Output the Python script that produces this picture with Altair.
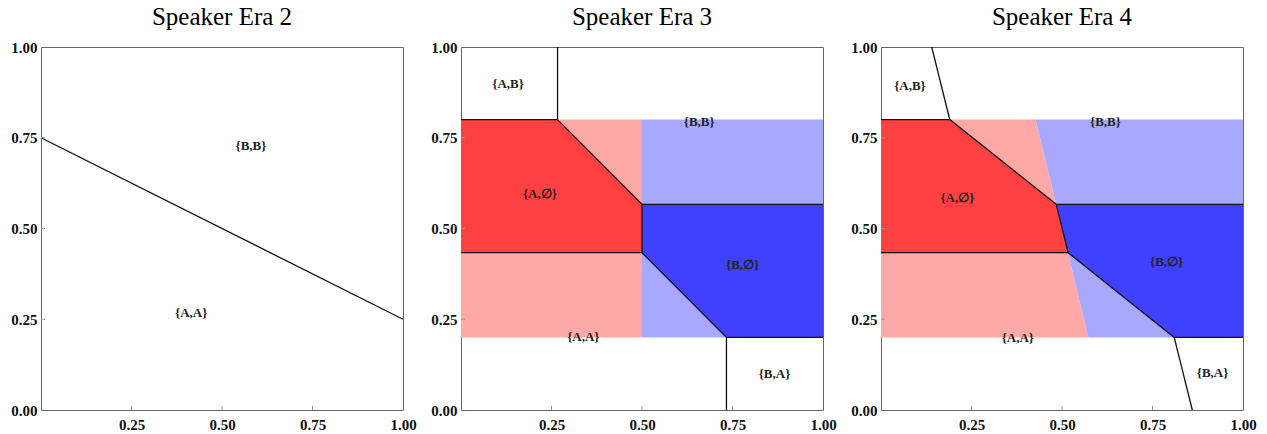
import altair as alt
import pandas as pd

W, H = 362, 363
SERIF = "Liberation Serif"

ERAS = ["Speaker Era 2", "Speaker Era 3", "Speaker Era 4"]

# Fill colours of the strategy regions
REGION_NAMES = ["A weak", "B weak", "A strong", "B strong"]
REGION_COLORS = ["#FFA8A8", "#A8A8FF", "#FF4040", "#4040FF"]

# Regions as areas: x breakpoints, upper bound, lower bound
# Era 3
E3_LIGHT_A = ([0.0, 0.5], [0.8, 0.8], [0.2, 0.2])
E3_LIGHT_B = ([0.5, 1.0], [0.8, 0.8], [0.2, 0.2])
E3_DARK_A = ([0.0, 0.2667, 0.5], [0.8, 0.8, 0.5667], [0.4333, 0.4333, 0.4333])
E3_DARK_B = ([0.5, 0.7333, 1.0], [0.5667, 0.5667, 0.5667], [0.4333, 0.2, 0.2])
# Era 4
E4_LIGHT_A = ([0.0, 0.427, 0.573], [0.8, 0.8, 0.2], [0.2, 0.2, 0.2])
E4_LIGHT_B = ([0.427, 0.573, 1.0], [0.8, 0.8, 0.8], [0.8, 0.2, 0.2])
E4_DARK_A = ([0.0, 0.19, 0.484, 0.517], [0.8, 0.8, 0.5667, 0.4333], [0.4333, 0.4333, 0.4333, 0.4333])
E4_DARK_B = ([0.484, 0.517, 0.81, 1.0], [0.5667, 0.5667, 0.5667, 0.5667], [0.5667, 0.4333, 0.2, 0.2])

# Boundary segments (x1, y1, x2, y2)
E2_SEGMENTS = [(0.0, 0.75, 1.0, 0.25)]
E3_SEGMENTS = [
    (0.2667, 1.0, 0.2667, 0.8),
    (0.0, 0.8, 0.2667, 0.8),
    (0.2667, 0.8, 0.5, 0.5667),
    (0.5, 0.5667, 0.5, 0.4333),
    (0.5, 0.5667, 1.0, 0.5667),
    (0.0, 0.4333, 0.5, 0.4333),
    (0.5, 0.4333, 0.7333, 0.2),
    (0.7333, 0.2, 1.0, 0.2),
    (0.7333, 0.2, 0.7333, 0.0),
]
E4_SEGMENTS = [
    (0.14, 1.0, 0.19, 0.8),
    (0.0, 0.8, 0.19, 0.8),
    (0.19, 0.8, 0.484, 0.5667),
    (0.484, 0.5667, 0.517, 0.4333),
    (0.484, 0.5667, 1.0, 0.5667),
    (0.0, 0.4333, 0.517, 0.4333),
    (0.517, 0.4333, 0.81, 0.2),
    (0.81, 0.2, 1.0, 0.2),
    (0.81, 0.2, 0.86, 0.0),
]

# Region labels
E2_LABELS = ["{B,B}", "{A,A}"]
E2_LABEL_X = [0.58, 0.415]
E2_LABEL_Y = [0.727, 0.268]
E3_LABELS = ["{A,B}", "{B,B}", "{A,∅}", "{B,∅}", "{A,A}", "{B,A}"]
E3_LABEL_X = [0.13, 0.658, 0.218, 0.778, 0.338, 0.866]
E3_LABEL_Y = [0.897, 0.794, 0.596, 0.399, 0.201, 0.098]
E4_LABELS = ["{A,B}", "{B,B}", "{A,∅}", "{B,∅}", "{A,A}", "{B,A}"]
E4_LABEL_X = [0.08, 0.62, 0.211, 0.789, 0.378, 0.916]
E4_LABEL_Y = [0.893, 0.794, 0.585, 0.408, 0.198, 0.103]

X_TICKS = [0.25, 0.5, 0.75, 1.0]
Y_TICKS = [0.0, 0.25, 0.5, 0.75, 1.0]
INNER_TICKS = [0.25, 0.5, 0.75]

SCALE = alt.Scale(domain=[0, 1], nice=False, zero=False)
X_AX = alt.Axis(values=X_TICKS, format=".2f", title=None, labelPadding=7)
Y_AX = alt.Axis(values=Y_TICKS, format=".2f", title=None, labelPadding=4)


def area_frame(regions):
    rows = []
    for name, (xs, tops, bots) in regions:
        for x, t, b in zip(xs, tops, bots):
            rows.append({"region": name, "x": x, "top": t, "bot": b})
    return pd.DataFrame(rows)


def area_layer(regions):
    return alt.Chart(area_frame(regions)).mark_area(opacity=1, strokeWidth=0).encode(
        x=alt.X("x:Q", scale=SCALE, axis=X_AX),
        y=alt.Y("top:Q", scale=SCALE, axis=Y_AX, stack=None),
        y2="bot:Q",
        color=alt.Color("region:N", scale=alt.Scale(domain=REGION_NAMES, range=REGION_COLORS), legend=None),
        detail="region:N",
    )


def panel(title, segments, labels, lx, ly, light=None, dark=None):
    layers = []
    base = alt.Chart(pd.DataFrame({"x": [0.0, 1.0], "y": [0.0, 1.0]})).mark_point(opacity=0).encode(
        x=alt.X("x:Q", scale=SCALE, axis=X_AX),
        y=alt.Y("y:Q", scale=SCALE, axis=Y_AX),
    )
    layers.append(base)
    if light:
        layers.append(area_layer(light))
    if dark:
        layers.append(area_layer(dark))

    seg = pd.DataFrame(segments, columns=["x1", "y1", "x2", "y2"])
    layers.append(
        alt.Chart(seg).mark_rule(color="#111111", strokeWidth=1.3).encode(
            x=alt.X("x1:Q", scale=SCALE, axis=X_AX),
            y=alt.Y("y1:Q", scale=SCALE, axis=Y_AX),
            x2="x2:Q",
            y2="y2:Q",
        )
    )

    ticks = pd.DataFrame({"v": INNER_TICKS})
    layers.append(
        alt.Chart(ticks).mark_rule(color="#999999", strokeWidth=1).encode(
            x=alt.X("v:Q", scale=SCALE, axis=X_AX),
            y=alt.value(H),
            y2=alt.value(H - 4),
        )
    )
    layers.append(
        alt.Chart(ticks).mark_rule(color="#999999", strokeWidth=1).encode(
            y=alt.Y("v:Q", scale=SCALE, axis=Y_AX),
            x=alt.value(0),
            x2=alt.value(4),
        )
    )

    lab = pd.DataFrame({"text": labels, "x": lx, "y": ly})
    layers.append(
        alt.Chart(lab).mark_text(font=SERIF, fontSize=13, fontWeight="bold", color="#222222").encode(
            x=alt.X("x:Q", scale=SCALE, axis=X_AX),
            y=alt.Y("y:Q", scale=SCALE, axis=Y_AX),
            text="text:N",
        )
    )

    return alt.layer(*layers).properties(
        width=W,
        height=H,
        title=alt.TitleParams(title, font=SERIF, fontSize=25, fontWeight="normal", color="#000000", offset=10),
    )


p2 = panel(ERAS[0], E2_SEGMENTS, E2_LABELS, E2_LABEL_X, E2_LABEL_Y)
p3 = panel(
    ERAS[1], E3_SEGMENTS, E3_LABELS, E3_LABEL_X, E3_LABEL_Y,
    light=[("A weak", E3_LIGHT_A), ("B weak", E3_LIGHT_B)],
    dark=[("A strong", E3_DARK_A), ("B strong", E3_DARK_B)],
)
p4 = panel(
    ERAS[2], E4_SEGMENTS, E4_LABELS, E4_LABEL_X, E4_LABEL_Y,
    light=[("A weak", E4_LIGHT_A), ("B weak", E4_LIGHT_B)],
    dark=[("A strong", E4_DARK_A), ("B strong", E4_DARK_B)],
)

chart = (
    alt.hconcat(p2, p3, p4, spacing=58, bounds="flush")
    .properties(padding={"left": 10, "top": 4, "right": 5, "bottom": 5})
    .configure_view(stroke="#666666", strokeWidth=1)
    .configure_axis(
        labelFont=SERIF,
        labelFontSize=15,
        labelFontWeight="bold",
        labelColor="#111111",
        ticks=False,
        domain=False,
        grid=False,
        labelFlush=False,
        labelOverlap=False,
    )
    .configure_title(anchor="middle")
)

chart.save("out.html", embed_options={"renderer": "svg", "actions": False})
